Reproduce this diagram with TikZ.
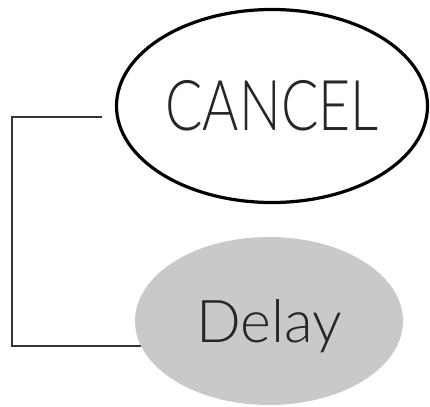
\documentclass[tikz,border=0pt]{standalone}
\usepackage{fontspec}
\setmainfont{Lato}[UprightFont=* Light]
\newfontfamily\capsfont{Lato}[UprightFont=* Light,FakeStretch=0.79]
\usetikzlibrary{shapes.geometric}

\begin{document}
\begin{tikzpicture}[x=1pt,y=-1pt,
    oval/.style={ellipse,inner sep=0pt,text=black!85},
    link/.style={draw=black!80,line width=1.3pt}]
  \useasboundingbox (0,0) rectangle (430,406);
  \draw
    (272,106) node[oval,draw,line width=3.2pt,minimum width=311pt,minimum height=193pt] (cancel){\capsfont\fontsize{70}{70}\selectfont CANCEL}
    (269,321) node[oval,fill=black!21,minimum width=268pt,minimum height=168pt,text depth=0pt] (delay){\fontsize{59}{59}\selectfont Delay};
  \coordinate (tail) at (102,117);
  \coordinate (bend) at (12,117);
  \begin{scope}[link]
    \draw (tail) to (bend) |- (delay.191);
  \end{scope}
\end{tikzpicture}
\end{document}
